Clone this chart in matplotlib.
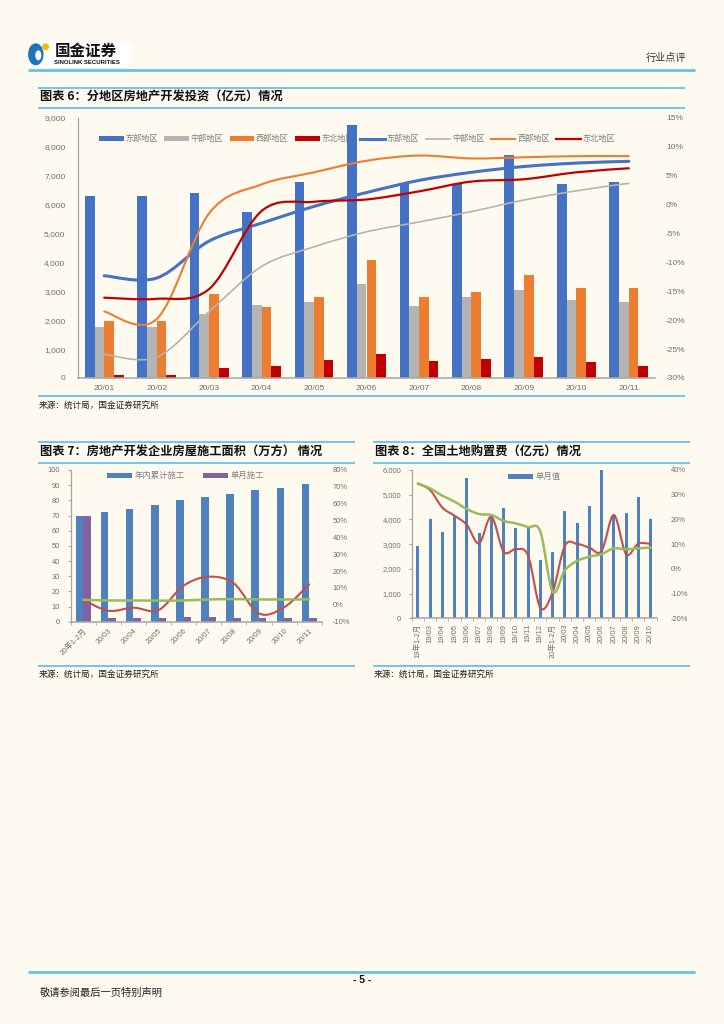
import matplotlib
matplotlib.use('Agg')
import matplotlib.pyplot as plt
from matplotlib.path import Path
from matplotlib.patches import PathPatch, Rectangle, Ellipse, Circle, Patch
from matplotlib.lines import Line2D
import matplotlib.ticker as mticker
import numpy as np

plt.rcParams['font.family'] = ['Liberation Sans', 'Noto Sans CJK SC', 'DejaVu Sans']
plt.rcParams['axes.unicode_minus'] = False

# ---------------- data ----------------
# Chart 6: investment by region (100m yuan) + YoY (%)
months6 = ['20/01', '20/02', '20/03', '20/04', '20/05', '20/06', '20/07', '20/08', '20/09', '20/10', '20/11']
east_inv = [6300, 6300, 6420, 5730, 6770, 8760, 6760, 6720, 7720, 6710, 6790]
central_inv = [1750, 1750, 2200, 2510, 2630, 3240, 2500, 2820, 3060, 2690, 2620]
west_inv = [1960, 1960, 2920, 2470, 2820, 4080, 2790, 2960, 3550, 3130, 3100]
ne_inv = [100, 100, 360, 430, 610, 820, 580, 650, 710, 550, 420]
east_yoy = [-12.3, -12.7, -6.3, -3.2, -0.3, 2.1, 4.2, 5.6, 6.6, 7.2, 7.5]
central_yoy = [-25.9, -26.4, -18.5, -10.7, -7.3, -4.7, -3.0, -1.2, 0.8, 2.4, 3.7]
west_yoy = [-18.5, -19.8, -1.5, 3.5, 5.6, 7.6, 8.5, 8.0, 8.2, 8.4, 8.4]
ne_yoy = [-16.1, -16.3, -14.6, -1.1, 0.5, 0.9, 2.3, 4.0, 4.4, 5.6, 6.3]
region_labels = ['东部地区', '中部地区', '西部地区', '东北地区']

# Chart 7: construction area
cats7 = ['20年1-2月', '20/03', '20/04', '20/05', '20/06', '20/07', '20/08', '20/09', '20/10', '20/11']
cum_area = [69.7, 72.1, 74.5, 76.9, 80.0, 82.4, 84.2, 86.6, 88.4, 90.8]
month_area = [69.7, 2.4, 2.4, 2.4, 3.1, 3.1, 2.4, 2.4, 2.4, 2.4]
month_area_yoy = [3.0, -3.5, -1.7, -3.1, 11.4, 16.7, 12.7, -5.1, -1.5, 12.1]
cum_area_yoy = [3.0, 2.6, 2.6, 2.5, 2.6, 3.2, 3.4, 3.2, 3.2, 3.2]
area_labels = ['年内累计施工', '单月施工']

# Chart 8: land purchase cost
cats8 = ['19年1-2月', '19/03', '19/04', '19/05', '19/06', '19/07', '19/08', '19/09', '19/10', '19/11',
         '19/12', '20年1-2月', '20/03', '20/04', '20/05', '20/06', '20/07', '20/08', '20/09', '20/10']
land_month = [2930, 4020, 3480, 4120, 5690, 3440, 4050, 4480, 3670, 3670,
              2370, 2670, 4350, 3840, 4530, 6010, 4160, 4250, 4910, 4030]
land_month_yoy = [34.5, 31.9, 24.8, 21.5, 17.8, 10.3, 21.1, 7.0, 8.0, 5.4,
                  -15.7, -9.5, 9.3, 10.1, 8.6, 7.2, 21.8, 6.0, 10.2, 10.1]
land_cum_yoy = [34.5, 32.6, 29.6, 27.2, 24.2, 22.2, 21.8, 19.4, 18.4, 16.9,
                15.1, -9.2, -0.6, 3.2, 4.9, 6.0, 8.3, 7.9, 8.3, 8.6]
land_label = '单月值'

# ---------------- figure ----------------
W, H = 724, 1024
fig = plt.figure(figsize=(7.24, 10.24), dpi=100)
BG = '#FFFAF0'
fig.patch.set_facecolor(BG)
LINEBLUE = '#62C2EC'
TICKC = '#6F6F6F'
SPINEC = '#A6A6A6'


def rect(l, t, r, b):
    return [l / W, 1 - b / H, (r - l) / W, (b - t) / H]


def fx(x):
    return x / W


def fy(y):
    return 1 - y / H


def hline(x0, x1, y, lw=1.3, color=LINEBLUE):
    fig.add_artist(Line2D([fx(x0), fx(x1)], [fy(y), fy(y)], transform=fig.transFigure,
                          color=color, lw=lw, solid_capstyle='butt'))


def smooth_path(xs, ys):
    pts = np.column_stack([xs, ys]).astype(float)
    n = len(pts)
    verts = [pts[0]]
    codes = [Path.MOVETO]
    for i in range(n - 1):
        p0 = pts[i - 1] if i > 0 else pts[i]
        p1 = pts[i]
        p2 = pts[i + 1]
        p3 = pts[i + 2] if i + 2 < n else pts[i + 1]
        c1 = p1 + (p2 - p0) / 6.0
        c2 = p2 - (p3 - p1) / 6.0
        verts += [c1, c2, p2]
        codes += [Path.CURVE4] * 3
    return Path(verts, codes)


def smooth_line(ax, xs, ys, color, lw, zorder=3):
    patch = PathPatch(smooth_path(xs, ys), facecolor='none', edgecolor=color, lw=lw,
                      zorder=zorder, capstyle='round', joinstyle='round')
    ax.add_patch(patch)


def style_axes(ax, axr):
    for s in ['top', 'right']:
        ax.spines[s].set_visible(False)
    ax.spines['left'].set_color(SPINEC)
    ax.spines['bottom'].set_color(SPINEC)
    ax.spines['left'].set_linewidth(0.9)
    ax.spines['bottom'].set_linewidth(1.1)
    for s in axr.spines.values():
        s.set_visible(False)
    ax.set_facecolor('none')
    axr.set_facecolor('none')


# ---------------- header ----------------
fig.add_artist(Rectangle((fx(27.5), fy(66.5)), fx(131.5) - fx(27.5), fy(41.5) - fy(66.5),
                         transform=fig.transFigure, facecolor='white', edgecolor='none'))
fig.add_artist(Ellipse((fx(35.8), fy(54.3)), fx(15.5), 22.0 / H, transform=fig.transFigure,
                       facecolor='#1F74BA', edgecolor='none'))
fig.add_artist(Ellipse((fx(38.3), fy(55.3)), fx(6.0), 10.0 / H, transform=fig.transFigure,
                       facecolor='white', edgecolor='none'))
fig.add_artist(Ellipse((fx(45.6), fy(46.8)), fx(7.0), 7.0 / H, transform=fig.transFigure,
                       facecolor='#F6B500', edgecolor='none'))
fig.text(fx(55), fy(50.5), '国金证券', fontsize=11.2, fontweight='bold', color='#111111',
         family=['Noto Sans CJK SC'], ha='left', va='center')
fig.text(fx(53.5), fy(62), 'SINOLINK SECURITIES', fontsize=4.3, fontweight='bold', color='#111111',
         ha='left', va='center')
fig.text(fx(686), fy(58.3), '行业点评', fontsize=7.3, color='#333333', ha='right', va='center',
         family=['Noto Sans CJK SC'])
hline(27.5, 695, 70, lw=2.0)

# ---------------- footer ----------------
hline(28, 695, 971.5, lw=2.0)
fig.text(fx(362.5), fy(980), '- 5 -', fontsize=7.5, fontweight='bold', color='#111111',
         ha='center', va='center')
fig.text(fx(39.5), fy(993), '敬请参阅最后一页特别声明', fontsize=7.4, color='#222222',
         ha='left', va='center', family=['Noto Sans CJK SC'])

# ---------------- Chart 6 ----------------
hline(38.3, 685, 87.7)
hline(38.3, 685, 108.3)
hline(38.3, 685, 396)
fig.text(fx(40), fy(97), '图表 6：分地区房地产开发投资（亿元）情况', fontsize=8.8, fontweight='bold',
         color='#111111', ha='left', va='center', family=['Noto Sans CJK SC', 'DejaVu Sans'])
fig.text(fx(39), fy(405), '来源：统计局，国金证券研究所', fontsize=6.2, color='#222222',
         ha='left', va='center', family=['Noto Sans CJK SC'])

ax6 = fig.add_axes(rect(78, 118, 655, 378))
x6 = np.arange(len(months6))
bw = 0.185
bar_cols6 = ['#4472C4', '#B4B4B4', '#ED7D31', '#C00000']
for k, (vals, c) in enumerate(zip([east_inv, central_inv, west_inv, ne_inv], bar_cols6)):
    ax6.bar(x6 + (k - 1.5) * bw, vals, bw, color=c, zorder=2)
ax6.set_xlim(-0.5, len(months6) - 0.5)
ax6.set_ylim(0, 9000)
ax6.set_yticks(range(0, 9001, 1000))
ax6.yaxis.set_major_formatter(mticker.StrMethodFormatter('{x:,.0f}'))
ax6.set_xticks(x6)
ax6.set_xticklabels(months6)
ax6.tick_params(axis='both', length=0, labelsize=6.0, colors=TICKC)
ax6.tick_params(axis='y', pad=9)
ax6.tick_params(axis='x', pad=5)

ax6b = ax6.twinx()
ax6b.set_ylim(-30, 15)
ax6b.set_yticks(range(-30, 16, 5))
ax6b.yaxis.set_major_formatter(mticker.StrMethodFormatter('{x:.0f}%'))
ax6b.tick_params(axis='y', length=0, labelsize=6.0, colors=TICKC, pad=8)
style_axes(ax6, ax6b)
line_cols6 = ['#4472C4', '#B4B4B4', '#ED7D31', '#C00000']
line_lw6 = [2.2, 1.2, 1.5, 1.6]
for vals, c, lw in zip([east_yoy, central_yoy, west_yoy, ne_yoy], line_cols6, line_lw6):
    smooth_line(ax6b, x6, vals, c, lw)

handles6 = [Patch(facecolor=c, edgecolor='none') for c in bar_cols6] + \
           [Line2D([], [], color=c, lw=lw) for c, lw in zip(line_cols6, line_lw6)]
leg6 = ax6.legend(handles6, region_labels + region_labels, ncol=8, loc='center',
                  bbox_to_anchor=(fx(357), fy(139)), bbox_transform=fig.transFigure,
                  frameon=False, fontsize=5.9, handlelength=3.0, handletextpad=0.2,
                  columnspacing=0.8, handleheight=0.5, labelcolor='#808080')
leg6.set_zorder(1.5)

# ---------------- Chart 7 ----------------
hline(38.3, 355, 442.3)
hline(38.3, 355, 463.3)
hline(38.3, 355, 665.7)
fig.text(fx(40), fy(451), '图表 7：房地产开发企业房屋施工面积（万方） 情况', fontsize=8.8, fontweight='bold',
         color='#111111', ha='left', va='center', family=['Noto Sans CJK SC', 'DejaVu Sans'])
fig.text(fx(39), fy(674.3), '来源：统计局，国金证券研究所', fontsize=6.2, color='#222222',
         ha='left', va='center', family=['Noto Sans CJK SC'])

ax7 = fig.add_axes(rect(70.7, 470, 321.7, 621.7))
x7 = np.arange(len(cats7))
bw7 = 0.3
ax7.bar(x7 - bw7 / 2, cum_area, bw7, color='#4F81BD', zorder=2)
ax7.bar(x7 + bw7 / 2, month_area, bw7, color='#8064A2', zorder=2)
ax7.set_xlim(-0.5, len(cats7) - 0.5)
ax7.set_ylim(0, 100)
ax7.set_yticks(range(0, 101, 10))
ax7.set_xticks(x7)
ax7.set_xticklabels(cats7, rotation=45, ha='right', va='top', rotation_mode='anchor')
ax7.set_xticks(np.arange(-0.5, len(cats7)), minor=True)
ax7.tick_params(axis='x', which='major', length=0, labelsize=5.4, colors=TICKC, pad=4)
ax7.tick_params(axis='x', which='minor', length=2.5, color=SPINEC)
ax7.tick_params(axis='y', length=2.5, color=SPINEC, labelsize=5.4, labelcolor=TICKC, pad=5)

ax7b = ax7.twinx()
ax7b.set_ylim(-10, 80)
ax7b.set_yticks(range(-10, 81, 10))
ax7b.yaxis.set_major_formatter(mticker.StrMethodFormatter('{x:.0f}%'))
ax7b.tick_params(axis='y', length=0, labelsize=5.4, colors=TICKC, pad=8)
style_axes(ax7, ax7b)
smooth_line(ax7b, x7, month_area_yoy, '#C0504D', 1.5)
smooth_line(ax7b, x7, cum_area_yoy, '#9BBB59', 1.8)

handles7 = [Patch(facecolor='#4F81BD', edgecolor='none'), Patch(facecolor='#8064A2', edgecolor='none')]
ax7.legend(handles7, area_labels, ncol=2, loc='center', bbox_to_anchor=(fx(185.5), fy(476)),
           bbox_transform=fig.transFigure, frameon=False, fontsize=6.0, handlelength=3.0,
           handletextpad=0.3, columnspacing=2.2, handleheight=0.5, labelcolor='#808080')

# ---------------- Chart 8 ----------------
hline(373.3, 690, 442.3)
hline(373.3, 690, 463.3)
hline(373.3, 690, 665.7)
fig.text(fx(375), fy(451), '图表 8：全国土地购置费（亿元）情况', fontsize=8.8, fontweight='bold',
         color='#111111', ha='left', va='center', family=['Noto Sans CJK SC', 'DejaVu Sans'])
fig.text(fx(374), fy(674.3), '来源：统计局，国金证券研究所', fontsize=6.2, color='#222222',
         ha='left', va='center', family=['Noto Sans CJK SC'])

ax8 = fig.add_axes(rect(411.7, 470, 656.7, 618.3))
x8 = np.arange(len(cats8))
ax8.bar(x8, land_month, 0.24, color='#4F81BD', zorder=2)
ax8.set_xlim(-0.5, len(cats8) - 0.5)
ax8.set_ylim(0, 6000)
ax8.set_yticks(range(0, 6001, 1000))
ax8.yaxis.set_major_formatter(mticker.StrMethodFormatter('{x:,.0f}'))
ax8.set_xticks(x8)
ax8.set_xticklabels(cats8, rotation=90, ha='center', va='top')
ax8.set_xticks(np.arange(-0.5, len(cats8)), minor=True)
ax8.tick_params(axis='x', which='major', length=0, labelsize=5.4, colors=TICKC, pad=4)
ax8.tick_params(axis='x', which='minor', length=2.5, color=SPINEC)
ax8.tick_params(axis='y', length=2.5, color=SPINEC, labelsize=5.4, labelcolor=TICKC, pad=5)

ax8b = ax8.twinx()
ax8b.set_ylim(-20, 40)
ax8b.set_yticks(range(-20, 41, 10))
ax8b.yaxis.set_major_formatter(mticker.StrMethodFormatter('{x:.0f}%'))
ax8b.tick_params(axis='y', length=0, labelsize=5.4, colors=TICKC, pad=10)
style_axes(ax8, ax8b)
smooth_line(ax8b, x8, land_month_yoy, '#C0504D', 1.5)
smooth_line(ax8b, x8, land_cum_yoy, '#9BBB59', 1.8)

ax8.legend([Patch(facecolor='#4F81BD', edgecolor='none')], [land_label], loc='center',
           bbox_to_anchor=(fx(534), fy(477)), bbox_transform=fig.transFigure, frameon=False,
           fontsize=6.0, handlelength=3.0, handletextpad=0.3, handleheight=0.5,
           labelcolor='#808080')

fig.savefig('out.png', dpi=100, facecolor=BG)
